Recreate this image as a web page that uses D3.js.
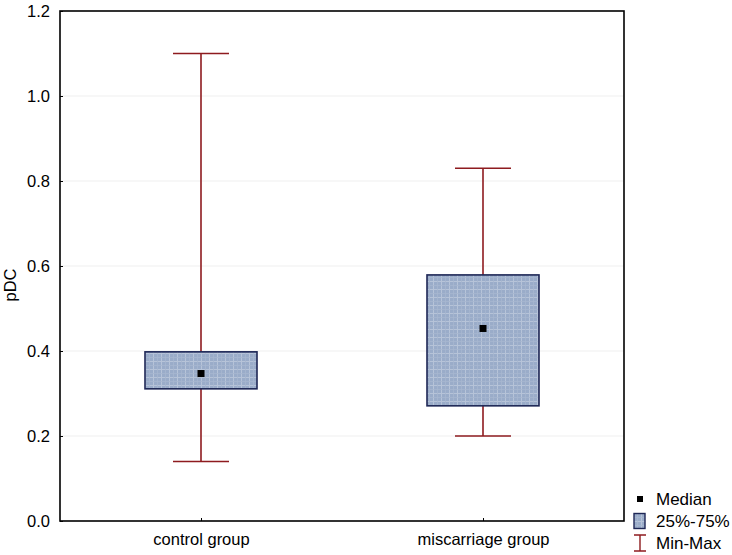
<!DOCTYPE html>
<html><head><meta charset="utf-8">
<script src="https://cdn.jsdelivr.net/npm/d3@7"></script>
<style>body{margin:0;background:#fff;} text{font-family:"Liberation Sans",Arial,sans-serif;}</style>
</head><body>
<svg id="c" width="732" height="555"></svg>
<script>
const categories = ["control group", "miscarriage group"];
const minVals = [0.14, 0.20];
const q1Vals = [0.311, 0.271];
const medianVals = [0.347, 0.453];
const q3Vals = [0.398, 0.579];
const maxVals = [1.10, 0.83];
const yTicks = [0.0, 0.2, 0.4, 0.6, 0.8, 1.0, 1.2];
const legendLabels = ["Median", "25%-75%", "Min-Max"];

const svg = d3.select("#c");
const L = 60, R = 624, T = 11, B = 521;
const x = d3.scalePoint().domain(categories).range([L, R]).padding(0.5);
const y = d3.scaleLinear().domain([0, 1.2]).range([B, T]);
const boxW = 112, capW = 56;
const whiskerColor = "#8E1B1F", boxStroke = "#1E2756";
const fs = 16.5;

const defs = svg.append("defs");
const pat = defs.append("pattern").attr("id","hatch").attr("patternUnits","userSpaceOnUse")
  .attr("width",8).attr("height",8);
pat.append("rect").attr("width",8).attr("height",8).attr("fill","#9AACC9");
pat.append("path").attr("d","M0,1.5H8M1.5,0V8").attr("stroke","#B6C3D8").attr("stroke-width",1);
pat.append("path").attr("d","M0,5.5H8M5.5,0V8").attr("stroke","#A7B6CF").attr("stroke-width",0.8);

// gridlines
svg.append("g").selectAll("line").data(yTicks.filter(d=>d>0 && d<1.2)).join("line")
  .attr("x1",L).attr("x2",R).attr("y1",d=>y(d)).attr("y2",d=>y(d))
  .attr("stroke","#EFEFEF").attr("stroke-width",1);

// axes
const yAxis = d3.axisLeft(y).tickValues(yTicks).tickFormat(d3.format(".1f")).tickSizeInner(-3).tickSizeOuter(0).tickPadding(10);
const gy = svg.append("g").attr("transform",`translate(${L},0)`).call(yAxis);
gy.select(".domain").remove();
gy.selectAll(".tick line").attr("stroke","#000");
gy.selectAll("text").attr("font-size",fs).attr("fill","#000").attr("font-family","Liberation Sans, Arial, sans-serif");

const xAxis = d3.axisBottom(x).tickSizeInner(-3).tickSizeOuter(0).tickPadding(12);
const gx = svg.append("g").attr("transform",`translate(0,${B})`).call(xAxis);
gx.select(".domain").remove();
gx.selectAll(".tick line").attr("stroke","#000");
gx.selectAll("text").attr("font-size",fs).attr("fill","#000").attr("font-family","Liberation Sans, Arial, sans-serif");

// frame
svg.append("rect").attr("x",L).attr("y",T).attr("width",R-L).attr("height",B-T)
  .attr("fill","none").attr("stroke","#000").attr("stroke-width",1.6);

// y label
svg.append("text").attr("transform",`translate(16,285) rotate(-90)`).attr("text-anchor","middle")
  .attr("font-size",fs).text("pDC");

// boxes
const data = categories.map((c,i)=>({c,min:minVals[i],q1:q1Vals[i],med:medianVals[i],q3:q3Vals[i],max:maxVals[i]}));
const g = svg.append("g").selectAll("g").data(data).join("g");
g.append("line").attr("x1",d=>x(d.c)).attr("x2",d=>x(d.c)).attr("y1",d=>y(d.max)).attr("y2",d=>y(d.min))
  .attr("stroke",whiskerColor).attr("stroke-width",1.6);
g.append("line").attr("x1",d=>x(d.c)-capW/2).attr("x2",d=>x(d.c)+capW/2).attr("y1",d=>y(d.max)).attr("y2",d=>y(d.max))
  .attr("stroke",whiskerColor).attr("stroke-width",1.6);
g.append("line").attr("x1",d=>x(d.c)-capW/2).attr("x2",d=>x(d.c)+capW/2).attr("y1",d=>y(d.min)).attr("y2",d=>y(d.min))
  .attr("stroke",whiskerColor).attr("stroke-width",1.6);
g.append("rect").attr("x",d=>x(d.c)-boxW/2).attr("width",boxW).attr("y",d=>y(d.q3)).attr("height",d=>y(d.q1)-y(d.q3))
  .attr("fill","url(#hatch)").attr("stroke",boxStroke).attr("stroke-width",1.6);
g.append("rect").attr("x",d=>x(d.c)-3.5).attr("y",d=>y(d.med)-3.5).attr("width",7).attr("height",7).attr("fill","#000");

// legend
const lg = svg.append("g");
const lx = 640, ly = [499, 521, 543];
lg.append("rect").attr("x",lx-3).attr("y",ly[0]-3).attr("width",6).attr("height",6).attr("fill","#000");
lg.append("rect").attr("x",lx-6).attr("y",ly[1]-7.5).attr("width",11).attr("height",15)
  .attr("fill","url(#hatch)").attr("stroke",boxStroke).attr("stroke-width",1.4);
lg.append("path").attr("d",`M${lx-6},${ly[2]-8}H${lx+6}M${lx},${ly[2]-8}V${ly[2]+8}M${lx-6},${ly[2]+8}H${lx+6}`)
  .attr("stroke",whiskerColor).attr("stroke-width",1.4).attr("fill","none");
lg.selectAll("text").data(legendLabels).join("text").attr("x",656).attr("y",(d,i)=>ly[i]).attr("dy","0.35em")
  .attr("font-size",17).text(d=>d);
</script>
</body></html>
